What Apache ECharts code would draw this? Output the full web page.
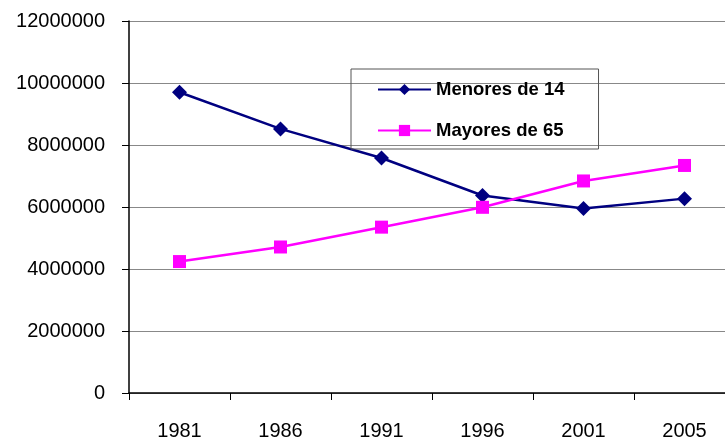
<!DOCTYPE html>
<html><head><meta charset="utf-8">
<script src="https://cdn.jsdelivr.net/npm/echarts@6/dist/echarts.min.js"></script>
<style>html,body{margin:0;padding:0;background:#fff;overflow:hidden}#c{width:735px;height:441px}</style>
</head><body><div id="c"></div>
<script>
const years = ['1981','1986','1991','1996','2001','2005'];
const menores = [9700000, 8520000, 7580000, 6370000, 5950000, 6270000];
const mayores = [4240000, 4710000, 5350000, 5990000, 6840000, 7340000];
const yTicks = [0, 2000000, 4000000, 6000000, 8000000, 10000000, 12000000];

const chart = echarts.init(document.getElementById('c'), null, {renderer:'canvas'});
const font = '"Liberation Sans", Arial, sans-serif';
chart.setOption({
  animation:false,
  backgroundColor:'#fff',
  textStyle:{fontFamily:font},
  grid:{left:129, top:21, right:0, bottom:45, containLabel:false},
  legend:{
    orient:'vertical', left:351, top:69,
    padding:[11,34,9,26], itemGap:22,
    itemWidth:53, itemHeight:14,
    borderColor:'#555', borderWidth:1,
    textStyle:{fontFamily:font, fontSize:18.5, fontWeight:'bold', color:'#000'},
    data:['Menores de 14','Mayores de 65']
  },
  xAxis:{
    type:'category', data:years, boundaryGap:true,
    axisLine:{lineStyle:{color:'#000', width:1.5}},
    axisTick:{show:true, length:7, lineStyle:{color:'#000'}},
    axisLabel:{color:'#000', fontSize:20, margin:28, fontFamily:font},
    splitLine:{show:false}
  },
  yAxis:{
    type:'value', min:yTicks[0], max:yTicks[yTicks.length-1], interval:2000000,
    axisLine:{show:true, lineStyle:{color:'#000', width:1.5}},
    axisTick:{show:true, length:7, lineStyle:{color:'#000'}},
    axisLabel:{color:'#000', fontSize:20, margin:24, fontFamily:font,
      formatter:function(v){return String(v);}},
    splitLine:{show:true, lineStyle:{color:'#888', width:1}}
  },
  series:[
    {name:'Menores de 14', type:'line', data:menores,
     symbol:'diamond', symbolSize:15,
     lineStyle:{color:'#000080', width:2.5},
     itemStyle:{color:'#000080'}},
    {name:'Mayores de 65', type:'line', data:mayores,
     symbol:'rect', symbolSize:13,
     lineStyle:{color:'#FF00FF', width:2.5},
     itemStyle:{color:'#FF00FF'}}
  ]
});
</script></body></html>
